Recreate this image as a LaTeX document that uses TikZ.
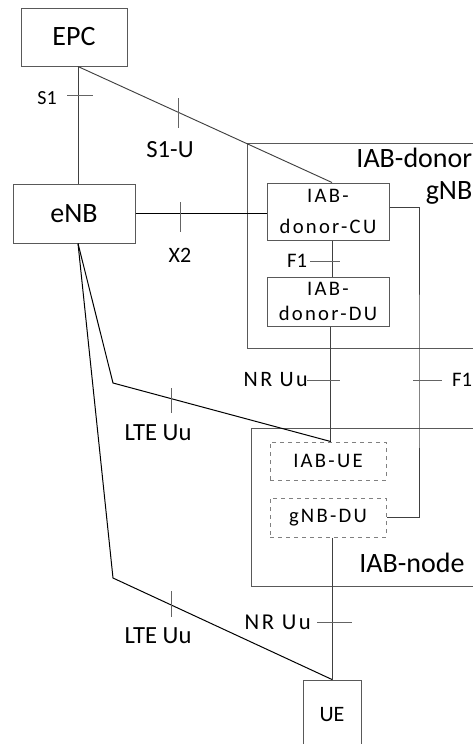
\documentclass[tikz,border=0pt]{standalone}
\usepackage{fontspec}
\setmainfont{Carlito}
\newfontfamily\spaced[LetterSpace=11]{Carlito}
\usetikzlibrary{calc}
\definecolor{boxgray}{RGB}{89,89,89}
\definecolor{linegray}{RGB}{64,64,64}
\definecolor{tickgray}{RGB}{100,100,100}

\begin{document}
\begin{tikzpicture}[x=0.75pt,y=-0.75pt]

\tikzstyle{unit} = [draw=boxgray, line width=0.75pt, inner sep=0, align=center, fill=white,
font=\fontsize{21}{24}\selectfont]
\tikzstyle{part} = [unit, font=\spaced\fontsize{15.5}{23}\selectfont]
\tikzstyle{sub} = [part, draw=gray, dashed]
\tikzstyle{area} = [draw=boxgray, line width=0.75pt, inner sep=0]
\tikzstyle{link} = [draw=linegray, line width=0.7pt]
\tikzstyle{radio} = [draw=black, line width=0.75pt]
\tikzstyle{tick} = [draw=tickgray, line width=0.6pt]
\tikzstyle{lbl} = [inner sep=0, font=\fontsize{16.5}{20}\selectfont]
\tikzstyle{biglbl} = [inner sep=0, align=right, font=\fontsize{21}{24}\selectfont]

\clip (0,0) rectangle (473,744);

% gNB and IAB-node frames
\node [area, minimum width=243*0.75pt, minimum height=205*0.75pt] (donor) at (368.5,245.5) {};
\node [area, minimum width=239*0.75pt, minimum height=158*0.75pt] (iabnode) at (370.5,507) {};
\node [biglbl, anchor=north east] (donorlbl) at (472.5,148) {IAB-donor\\gNB};
\node [biglbl] (nodelbl) at (412,563) {IAB-node};

% boxes
\node [unit, minimum width=106*0.75pt, minimum height=58*0.75pt] (EPC) at (74,37) {EPC};
\node [unit, minimum width=122*0.75pt, minimum height=59*0.75pt] (eNB) at (74,213.5) {eNB};
\node [part, minimum width=122*0.75pt, minimum height=57*0.75pt] (CU) at (328,211.5) {IAB-\\donor-CU};
\node [part, minimum width=122*0.75pt, minimum height=49*0.75pt, font=\spaced\fontsize{15.5}{19}\selectfont] (DU) at (328,301.5) {IAB-\\donor-DU};
\node [sub, minimum width=116*0.75pt, minimum height=38*0.75pt] (IABUE) at (328,461) {IAB-UE};
\node [sub, minimum width=116*0.75pt, minimum height=39*0.75pt] (gNBDU) at (328,517.5) {gNB-DU};
\node [unit, minimum width=58*0.75pt, minimum height=70*0.75pt, font=\fontsize{16.5}{20}\selectfont] (UE) at (332,715) {UE};

% bends
\coordinate (f1) at (419,380);
\coordinate (lteA) at (113,383);
\coordinate (lteB) at (113,578);

% connectors
\draw[link] ([xshift=3pt]EPC.south) -- ([xshift=3pt]eNB.north);
\draw[link] ([xshift=3pt]EPC.south) -- ([xshift=3pt]CU.north);
\draw[radio] (eNB.east) -- (eNB.east -| CU.west);
\draw[link] ([xshift=3pt]CU.south) -- ([xshift=3pt]DU.north);
\draw[link] ([yshift=3pt]CU.east) -| (f1) |- (gNBDU.east);
\draw[link] ([xshift=2pt]DU.south) -- ([xshift=2pt]IABUE.north);
\draw[radio] ([xshift=3pt]eNB.south) -- (lteA) -- ([xshift=2pt]IABUE.north);
\draw[radio] ([xshift=3pt]eNB.south) -- (lteB) -- (UE.north);
\draw[link] ([xshift=3pt]gNBDU.south) -- (UE.north);

% ticks
\draw[tick] (78,95) +(-11,0) -- +(15,0);
\draw[tick] (178,113) +(0,-15) -- +(0,15);
\draw[tick] (180,217) +(0,-15) -- +(0,15);
\draw[tick] (332,261) +(-22,0) -- +(8,0);
\draw[tick] (330,380) +(-23,0) -- +(10,0);
\draw[tick] (f1) +(-6,0) -- +(23,0);
\draw[tick] (171,400) +(0,-12) -- +(0,13);
\draw[tick] (171,604) +(0,-13) -- +(0,13);
\draw[tick] (332,622) +(-15,0) -- +(20,0);

% labels
\node [lbl, font=\fontsize{15}{18}\selectfont] (lS1) at (47,98) {S1};
\node [lbl, font=\fontsize{18.5}{22}\selectfont] (lS1U) at (170,150) {S1-U};
\node [lbl] (lX2) at (180,255) {X2};
\node [lbl, font=\fontsize{15.5}{18}\selectfont] (lF1a) at (297,261) {F1};
\node [lbl, anchor=east, font=\spaced\fontsize{16.5}{20}\selectfont] (lNRa) at (308,380) {NR Uu};
\node [lbl, font=\fontsize{15.5}{18}\selectfont] (lF1b) at (462,380) {F1};
\node [lbl, font=\fontsize{18.5}{22}\selectfont] (lLTEa) at (158,433) {LTE Uu};
\node [lbl, font=\fontsize{18.5}{22}\selectfont] (lLTEb) at (158,636) {LTE Uu};
\node [lbl, anchor=east, font=\spaced\fontsize{17}{20}\selectfont] (lNRb) at (311,622) {NR Uu};

\end{tikzpicture}
\end{document}
